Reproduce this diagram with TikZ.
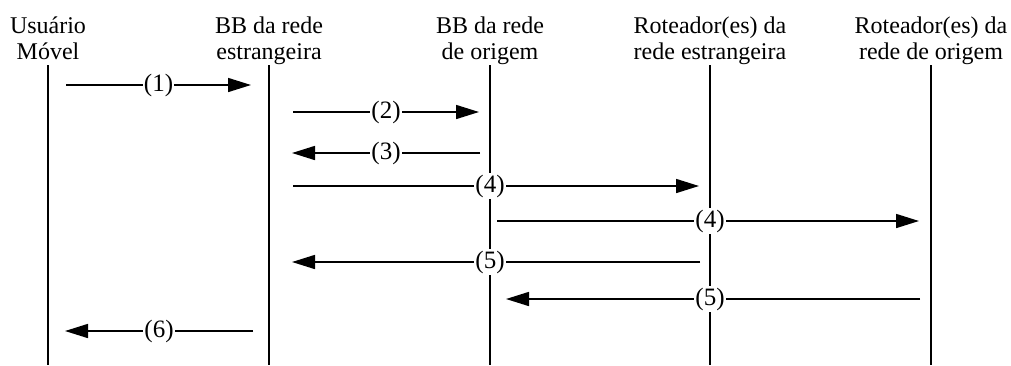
\documentclass[tikz,border=0pt]{standalone}
\usepackage{fontspec}
\setmainfont{Liberation Serif}
\usetikzlibrary{arrows.meta,positioning}

\begin{document}
\begin{tikzpicture}[x=0.5pt,y=-0.5pt,inner sep=0pt]
\tikzstyle{actor}=[align=center, anchor=base, font=\fontsize{12}{13}\selectfont]
\tikzstyle{life}=[line width=0.8pt]
\tikzstyle{msg}=[line width=0.8pt, -{Triangle[length=11.5pt,width=7pt]}]
\tikzstyle{lbl}=[fill=white, inner sep=0.6pt, font=\fontsize{12.5}{13}\selectfont]
\useasboundingbox (0,0) rectangle (1011,365);
% participants
\node[actor] (usr) at (48,59) {Usuário\\Móvel};
\node[actor] (bbe) at (269,59) {BB da rede\\estrangeira};
\node[actor] (bbo) at (490,59) {BB da rede\\de origem};
\node[actor] (rte) at (710,59) {Roteador(es) da\\rede estrangeira};
\node[actor] (rto) at (931,59) {Roteador(es) da\\rede de origem};
% lifelines
\coordinate (usrt) at (48,65);  \coordinate (usrb) at (48,365);
\coordinate (bbet) at (269,65); \coordinate (bbeb) at (269,365);
\coordinate (bbot) at (490,65); \coordinate (bbob) at (490,365);
\coordinate (rtet) at (710,65); \coordinate (rteb) at (710,365);
\coordinate (rtot) at (931,65); \coordinate (rtob) at (931,365);
\draw[life] (usrt) -- (usrb);
\draw[life] (bbet) -- (bbeb);
\draw[life] (bbot) -- (bbob);
\draw[life] (rtet) -- (rteb);
\draw[life] (rtot) -- (rtob);
% message ends
\coordinate (m1a) at (66,85);   \coordinate (m1b) at (251,85);
\coordinate (m2a) at (293,112); \coordinate (m2b) at (479,112);
\coordinate (m3a) at (480,153); \coordinate (m3b) at (292,153);
\coordinate (m4a) at (293,186); \coordinate (m4b) at (699,186);
\coordinate (m5a) at (497,221); \coordinate (m5b) at (919,221);
\coordinate (m6a) at (700,262); \coordinate (m6b) at (292,262);
\coordinate (m7a) at (920,299); \coordinate (m7b) at (506,299);
\coordinate (m8a) at (253,331); \coordinate (m8b) at (65,331);
% messages
\draw[msg] (m1a) -- node[lbl] {(1)} (m1b);
\draw[msg] (m2a) -- node[lbl] {(2)} (m2b);
\draw[msg] (m3a) -- node[lbl] {(3)} (m3b);
\draw[msg] (m4a) -- (m4b);
\draw[msg] (m5a) -- (m5b);
\draw[msg] (m6a) -- (m6b);
\draw[msg] (m7a) -- (m7b);
\draw[msg] (m8a) -- node[lbl] {(6)} (m8b);
\node[lbl] at (bbo |- m4a) {(4)};
\node[lbl] at (rte |- m5a) {(4)};
\node[lbl] at (bbo |- m6a) {(5)};
\node[lbl] at (rte |- m7a) {(5)};
\end{tikzpicture}
\end{document}
